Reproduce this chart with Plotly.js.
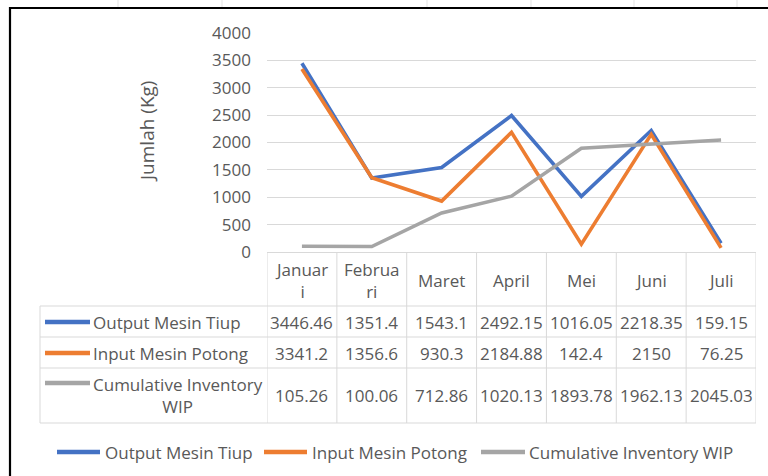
<!DOCTYPE html>
<html>
<head>
<meta charset="utf-8">
<script src="https://cdn.plot.ly/plotly-3.0.1.min.js"></script>
<style>
  html, body { margin: 0; padding: 0; background: #ffffff; }
  #chart { width: 768px; height: 476px; }
</style>
</head>
<body>
<div id="chart"></div>
<script>
// ---------- data ----------
const months = ["Januari", "Februari", "Maret", "April", "Mei", "Juni", "Juli"];
const headerLabels = ["Januar<br>i", "Februa<br>ri", "Maret", "April", "Mei", "Juni", "Juli"];
const outputMesinTiup = [3446.46, 1351.4, 1543.1, 2492.15, 1016.05, 2218.35, 159.15];
const inputMesinPotong = [3341.2, 1356.6, 930.3, 2184.88, 142.4, 2150, 76.25];
const cumulativeInventoryWIP = [105.26, 100.06, 712.86, 1020.13, 1893.78, 1962.13, 2045.03];
const seriesNames = ["Output Mesin Tiup", "Input Mesin Potong", "Cumulative Inventory WIP"];
const rowLabels = ["Output Mesin Tiup", "Input Mesin Potong", "Cumulative Inventory<br>WIP"];
const yAxisTitle = "Jumlah (Kg)";

// ---------- styling / layout ----------
const W = 768, H = 476;
const px = x => x / W;
const py = y => 1 - y / H;
const colors = ["#4472C4", "#ED7D31", "#A5A5A5"];
const seriesValues = [outputMesinTiup, inputMesinPotong, cumulativeInventoryWIP];
const FONT = "Open Sans, Noto Sans, sans-serif";
const TXT = "#595959";
const GRID = "#D9D9D9";
const FS = 17;

const plotL = 267, plotR = 756, plotT = 33, plotB = 252;
const tblHeadB = 306;
const rowBounds = [306, 337, 368, 423];
const rowCenters = [322, 353, 395];
const legendColL = 40;

const traces = seriesValues.map((vals, i) => ({
  type: "scatter",
  mode: "lines",
  x: months,
  y: vals,
  name: seriesNames[i],
  line: { color: colors[i], width: 3.6 },
  hoverinfo: "skip",
  showlegend: false
}));

const shapes = [];
const annotations = [];

// outer frame (top & left)
shapes.push({ type: "line", xref: "paper", yref: "paper", x0: px(10), x1: px(10), y0: py(7), y1: py(480), line: { color: "#000000", width: 2.2 } });
shapes.push({ type: "line", xref: "paper", yref: "paper", x0: px(9), x1: px(770), y0: py(8), y1: py(8), line: { color: "#000000", width: 2.2 } });
// faint spreadsheet gridlines above frame
[118, 222, 427, 531, 634, 737].forEach(x => {
  shapes.push({ type: "line", xref: "paper", yref: "paper", x0: px(x), x1: px(x), y0: py(0), y1: py(7), line: { color: "#E3E3E3", width: 1 } });
});

// table vertical lines at category boundaries
for (let i = 0; i <= months.length; i++) {
  shapes.push({ type: "line", xref: "x", yref: "paper", x0: i - 0.5, x1: i - 0.5, y0: py(plotB), y1: py(rowBounds[rowBounds.length - 1]), line: { color: GRID, width: 1 } });
}
// legend column left border
shapes.push({ type: "line", xref: "paper", yref: "paper", x0: px(legendColL), x1: px(legendColL), y0: py(tblHeadB), y1: py(rowBounds[rowBounds.length - 1]), line: { color: GRID, width: 1 } });
// table horizontal lines
rowBounds.forEach(y => {
  shapes.push({ type: "line", xref: "paper", yref: "paper", x0: px(legendColL), x1: px(plotR), y0: py(y), y1: py(y), line: { color: GRID, width: 1 } });
});

// header labels
months.forEach((m, i) => {
  annotations.push({ xref: "x", yref: "paper", x: m, y: py(280), text: headerLabels[i], showarrow: false, xanchor: "center", yanchor: "middle", align: "center", font: { family: FONT, size: FS, color: TXT } });
});

// rows: legend keys, labels, values
seriesValues.forEach((vals, r) => {
  const multi = rowLabels[r].indexOf("<br>") >= 0;
  const keyY = multi ? 383 : rowCenters[r];
  shapes.push({ type: "line", xref: "paper", yref: "paper", x0: px(45), x1: px(90), y0: py(keyY), y1: py(keyY), line: { color: colors[r], width: 4.5 } });
  annotations.push({ xref: "paper", yref: "paper", x: px(91), y: py(rowCenters[r]), text: rowLabels[r], showarrow: false, xanchor: "left", yanchor: "middle", align: "center", font: { family: FONT, size: FS, color: TXT } });
  vals.forEach((v, i) => {
    annotations.push({ xref: "x", yref: "paper", x: months[i], y: py(rowCenters[r]), text: String(v), showarrow: false, xanchor: "center", yanchor: "middle", font: { family: FONT, size: FS, color: TXT } });
  });
});

// y axis title
annotations.push({ xref: "paper", yref: "paper", x: px(147), y: py(132), text: yAxisTitle, textangle: -90, showarrow: false, xanchor: "center", yanchor: "middle", font: { family: FONT, size: 19, color: TXT } });

// bottom legend
const legendItems = [
  { x0: 57, x1: 100, tx: 103 },
  { x0: 264, x1: 307, tx: 310 },
  { x0: 481, x1: 525, tx: 527 }
];
legendItems.forEach((it, i) => {
  shapes.push({ type: "line", xref: "paper", yref: "paper", x0: px(it.x0), x1: px(it.x1), y0: py(452), y1: py(452), line: { color: colors[i], width: 4.5 } });
  annotations.push({ xref: "paper", yref: "paper", x: px(it.tx), y: py(452), text: seriesNames[i], showarrow: false, xanchor: "left", yanchor: "middle", font: { family: FONT, size: FS, color: TXT } });
});

const layout = {
  width: W,
  height: H,
  margin: { l: 0, r: 0, t: 0, b: 0 },
  paper_bgcolor: "#ffffff",
  plot_bgcolor: "#ffffff",
  font: { family: FONT, size: FS, color: TXT },
  showlegend: false,
  xaxis: {
    type: "category",
    categoryorder: "array",
    categoryarray: months,
    range: [-0.5, months.length - 0.5],
    domain: [px(plotL), px(plotR)],
    showgrid: false,
    zeroline: false,
    showticklabels: false,
    ticks: "",
    showline: true,
    linecolor: GRID,
    linewidth: 1,
    fixedrange: true
  },
  yaxis: {
    range: [0, 4000],
    dtick: 500,
    tick0: 0,
    domain: [py(plotB), py(plotT)],
    showgrid: true,
    gridcolor: GRID,
    gridwidth: 1,
    zeroline: false,
    showline: false,
    ticks: "",
    ticklabelstandoff: 15,
    tickfont: { family: FONT, size: FS, color: TXT },
    fixedrange: true
  },
  shapes: shapes,
  annotations: annotations
};

Plotly.newPlot("chart", traces, layout, { displayModeBar: false, staticPlot: true });
</script>
</body>
</html>
